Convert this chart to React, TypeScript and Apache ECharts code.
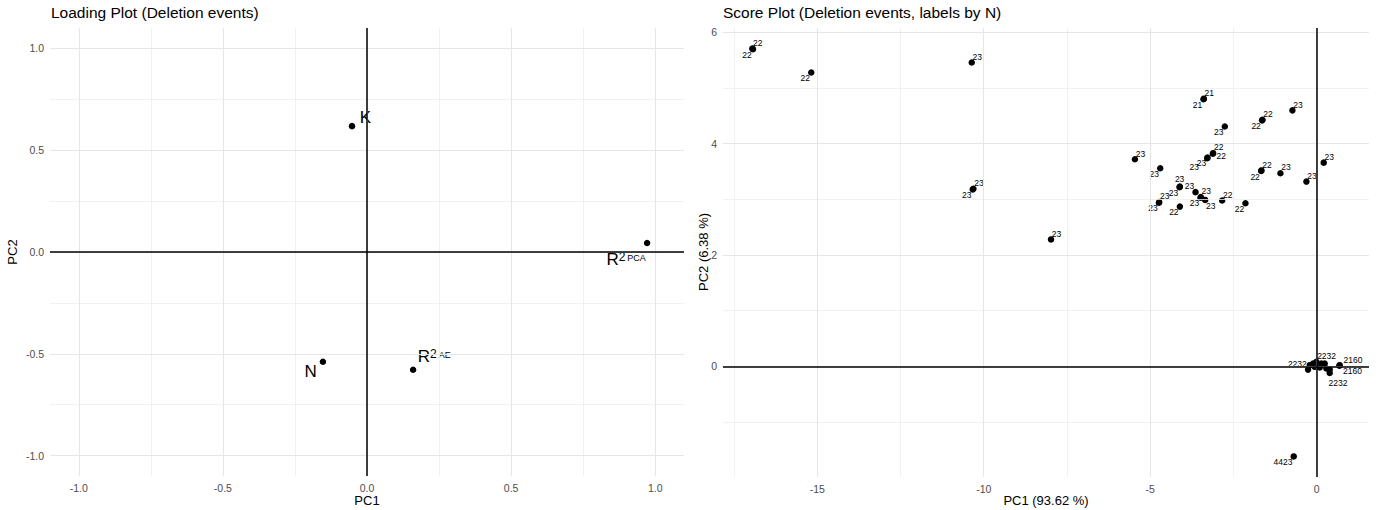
import React, { useEffect, useRef } from "react";
import * as echarts from "echarts";

// ---- Loading plot (variables) ----
const loadingVars = ["K", "R2_PCA", "N", "R2_AE"];
const loadingPC1 = [-0.052, 0.972, -0.153, 0.16];
const loadingPC2 = [0.618, 0.044, -0.539, -0.578];

const loadingTicks = [-1, -0.5, 0, 0.5, 1];
const loadingMinor = [-0.75, -0.25, 0.25, 0.75];

// ---- Score plot (deletion events, labelled by N) ----
const scorePC1 = [
  -16.95, -16.93, -15.18, -10.36, -10.31, -10.33, -7.98, -3.39, -3.4, -2.76,
  -1.63, -1.64, -0.73, -5.46, -4.7, -3.28, -3.29, -3.11, -3.12, -1.66,
  -1.67, -1.09, -0.31, 0.21, -4.11, -4.12, -3.64, -3.48, -3.49, -3.35,
  -4.73, -4.74, -4.11, -2.84, -2.14, -0.26, -0.21, -0.11, -0.06, -0.01,
  0.09, 0.14, 0.24, 0.29, 0.39, 0.39, 0.69, 0.68, -0.69,
];
const scorePC2 = [
  5.71, 5.7, 5.28, 5.46, 3.19, 3.18, 2.28, 4.81, 4.8, 4.31,
  4.43, 4.42, 4.6, 3.72, 3.56, 3.75, 3.74, 3.83, 3.82, 3.52,
  3.51, 3.47, 3.32, 3.66, 3.23, 3.22, 3.13, 3.04, 3.03, 2.99,
  2.95, 2.94, 2.87, 2.98, 2.93, -0.06, 0.02, 0.05, -0.01, 0.08,
  -0.02, 0.05, 0.05, -0.04, -0.06, -0.12, 0.02, 0.01, -1.62,
];
const scoreN = [
  "22", "22", "22", "23", "23", "23", "23", "21", "21", "23",
  "22", "22", "23", "23", "23", "23", "23", "22", "22", "22",
  "22", "23", "23", "23", "23", "23", "23", "23", "23", "23",
  "23", "23", "22", "22", "22", "2232", "2232", "2232", "2232", "2232",
  "2232", "2232", "2232", "2232", "2232", "2232", "2160", "2160", "4423",
];
// where each repelled label sits around its point ("none" = label dropped)
const scoreLabelSide = [
  "ur", "ll", "ll", "ur", "ur", "ll", "ur", "ur", "ll", "ll",
  "ur", "ll", "ur", "ur", "ll", "ll", "far", "ur", "r", "ur",
  "ll", "ur", "ur", "ur", "u", "ll", "ul", "ur", "ll", "lr",
  "ur", "ll", "ll", "ur", "ll", "ul", "none", "none", "none", "ur",
  "none", "none", "none", "none", "none", "lrd", "ru", "rd", "ll",
];

const scoreXTicks = [-15, -10, -5, 0];
const scoreXMinor = [-17.5, -12.5, -7.5, -2.5];
const scoreYTicks = [0, 2, 4, 6];
const scoreYMinor = [-1, 1, 3, 5];

const FONT = "'Liberation Sans', Arial, Helvetica, sans-serif";
const SYM = 6.5;

type Side = { pos: [number, number]; align: string; va: string };
const sides: Record<string, Side> = {
  ur: { pos: [4, 2], align: "left", va: "bottom" },
  ul: { pos: [2, 2], align: "right", va: "bottom" },
  ll: { pos: [2, 4.5], align: "right", va: "top" },
  lr: { pos: [4, 4.5], align: "left", va: "top" },
  lrd: { pos: [2, 8.5], align: "left", va: "top" },
  u: { pos: [3, 0], align: "center", va: "bottom" },
  r: { pos: [7, 6], align: "left", va: "middle" },
  ru: { pos: [7, -2], align: "left", va: "middle" },
  rd: { pos: [7, 9], align: "left", va: "middle" },
  far: { pos: [-5, 8], align: "right", va: "top" },
};

function gridLines(values: number[], dim: "xAxis" | "yAxis", width: number, color: string) {
  return values.map((v) => ({
    [dim]: v,
    lineStyle: { color, width, type: "solid" },
  }));
}

function guideSeries(
  idx: number,
  xMajor: number[],
  xMinor: number[],
  yMajor: number[],
  yMinor: number[]
) {
  return [
    {
      type: "scatter",
      xAxisIndex: idx,
      yAxisIndex: idx,
      data: [],
      silent: true,
      z: 0,
      markLine: {
        silent: true,
        symbol: ["none", "none"],
        label: { show: false },
        emphasis: { disabled: true },
        data: [
          ...gridLines(xMinor, "xAxis", 0.8, "#EEEEEE"),
          ...gridLines(yMinor, "yAxis", 0.8, "#EEEEEE"),
          ...gridLines(xMajor, "xAxis", 1.1, "#E6E6E6"),
          ...gridLines(yMajor, "yAxis", 1.1, "#E6E6E6"),
        ],
      },
    },
    {
      type: "scatter",
      xAxisIndex: idx,
      yAxisIndex: idx,
      data: [],
      silent: true,
      z: 1,
      markLine: {
        silent: true,
        symbol: ["none", "none"],
        label: { show: false },
        emphasis: { disabled: true },
        data: [
          { xAxis: 0, lineStyle: { color: "#000", width: 1.5, type: "solid" } },
          { yAxis: 0, lineStyle: { color: "#000", width: 1.5, type: "solid" } },
        ],
      },
    },
  ];
}

function loadingLabel(name: string) {
  if (name.startsWith("R2_")) {
    return `{m|R}{sup|2}{sub|${name.slice(3)}}`;
  }
  return `{m|${name}}`;
}

const loadingPlacement: Record<string, Side> = {
  K: { pos: [11, -5], align: "left", va: "middle" },
  R2_PCA: { pos: [2, 11], align: "right", va: "top" },
  N: { pos: [-3, 13], align: "right", va: "middle" },
  R2_AE: { pos: [8, -10], align: "left", va: "middle" },
};

function axisPair(
  idx: number,
  xMin: number,
  xMax: number,
  xTicks: number[],
  yMin: number,
  yMax: number,
  yTicks: number[],
  fmt: (v: number) => string
) {
  const common = {
    axisLine: { show: false },
    axisTick: { show: false },
    splitLine: { show: false },
    minorSplitLine: { show: false },
  };
  const lbl = (ticks: number[]) => ({
    customValues: ticks,
    formatter: fmt,
    fontSize: 10.5,
    color: "#4D4D4D",
    fontFamily: FONT,
    margin: 6,
  });
  return {
    x: {
      type: "value",
      gridIndex: idx,
      min: xMin,
      max: xMax,
      ...common,
      axisLabel: lbl(xTicks),
    },
    y: {
      type: "value",
      gridIndex: idx,
      min: yMin,
      max: yMax,
      ...common,
      axisLabel: lbl(yTicks),
    },
  };
}

export default function App() {
  const ref = useRef<HTMLDivElement>(null);

  useEffect(() => {
    if (!ref.current) return;
    const chart = echarts.init(ref.current, undefined, { renderer: "svg" });

    const left = axisPair(0, -1.1, 1.1, loadingTicks, -1.1, 1.1, loadingTicks, (v) =>
      Number(v).toFixed(1)
    );
    const right = axisPair(1, -17.83, 1.57, scoreXTicks, -1.99, 6.08, scoreYTicks, (v) =>
      String(Math.round(Number(v)))
    );

    const loadingData = loadingVars.map((name, i) => {
      const p = loadingPlacement[name];
      return {
        name,
        value: [loadingPC1[i], loadingPC2[i]],
        label: {
          show: true,
          position: p.pos,
          align: p.align,
          verticalAlign: p.va,
          formatter: loadingLabel(name),
          rich: {
            m: { fontSize: 17, fontFamily: FONT, color: "#000" },
            sup: { fontSize: 12, fontFamily: FONT, color: "#000", verticalAlign: "top" },
            sub: {
              fontSize: 9,
              fontFamily: FONT,
              color: "#000",
              verticalAlign: "middle",
              padding: [0, 0, 3, 2],
            },
          },
        },
      };
    });

    const scoreData = scorePC1.map((x, i) => {
      const s = sides[scoreLabelSide[i]];
      return {
        value: [x, scorePC2[i]],
        label: s
          ? {
              show: true,
              formatter: scoreN[i],
              position: s.pos,
              align: s.align,
              verticalAlign: s.va,
              fontSize: 8.5,
              fontFamily: FONT,
              color: "#000",
            }
          : { show: false },
      };
    });

    const text = (
      x: number,
      y: number,
      t: string,
      size: number,
      align: string,
      rotation = 0
    ) => ({
      type: "text",
      x,
      y,
      rotation,
      style: {
        text: t,
        fontSize: size,
        fontFamily: FONT,
        fill: "#000",
        align,
        verticalAlign: "middle",
      },
    });

    chart.setOption({
      animation: false,
      backgroundColor: "#fff",
      textStyle: { fontFamily: FONT },
      grid: [
        { left: 50, top: 28, width: 634, height: 448 },
        { left: 723, top: 28, width: 646, height: 449 },
      ],
      xAxis: [left.x, right.x],
      yAxis: [left.y, right.y],
      graphic: [
        text(51, 12, "Loading Plot (Deletion events)", 15.5, "left"),
        text(723, 12, "Score Plot (Deletion events, labels by N)", 15.5, "left"),
        text(367, 500, "PC1", 13, "center"),
        text(1046, 500, "PC1 (93.62 %)", 13, "center"),
        text(12, 252, "PC2", 13, "center", Math.PI / 2),
        text(703, 252, "PC2 (6.38 %)", 13, "center", Math.PI / 2),
      ],
      series: [
        ...guideSeries(0, loadingTicks, loadingMinor, loadingTicks, loadingMinor),
        ...guideSeries(1, scoreXTicks, scoreXMinor, scoreYTicks, scoreYMinor),
        {
          type: "scatter",
          xAxisIndex: 0,
          yAxisIndex: 0,
          symbolSize: SYM,
          itemStyle: { color: "#000", opacity: 1 },
          z: 3,
          data: loadingData,
        },
        {
          type: "scatter",
          xAxisIndex: 1,
          yAxisIndex: 1,
          symbolSize: SYM,
          itemStyle: { color: "#000", opacity: 1 },
          z: 3,
          labelLayout: { hideOverlap: false },
          data: scoreData,
        },
      ],
    });

    return () => chart.dispose();
  }, []);

  return (
    <div
      ref={ref}
      style={{ position: "absolute", left: 0, top: 0, width: 1379, height: 510 }}
    />
  );
}
